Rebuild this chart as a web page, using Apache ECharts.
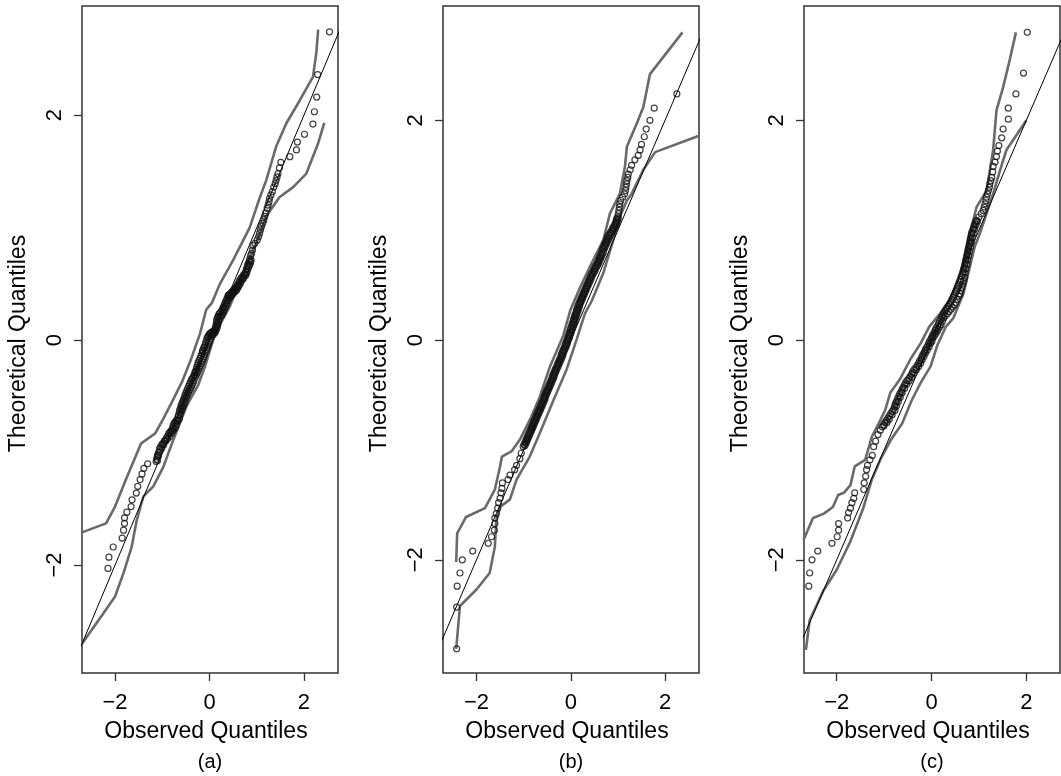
<!DOCTYPE html>
<html>
<head>
<meta charset="utf-8">
<title>QQ plots</title>
<script src="https://cdn.jsdelivr.net/npm/echarts@6/dist/echarts.min.js"></script>
<style>
  html, body { margin: 0; padding: 0; background: #fff; }
  #chart { width: 1061px; height: 776px; }
</style>
</head>
<body>
<div id="chart"></div>
<script>
// tick values and labels
const tickValues = [-2, 0, 2];
const panelLabels = ['(a)', '(b)', '(c)'];
const xName = 'Observed Quantiles';
const yName = 'Theoretical Quantiles';

// reference line y = x
const refLine = [[-3, -3], [3, 3]];

// axis ranges
const xRanges = [[-2.70, 2.72], [-2.71, 2.72], [-2.69, 2.71]];
const yRanges = [[-2.96, 2.97], [-3.03, 3.04], [-3.03, 3.04]];

// panel (a)
const aPoints = [
  [-2.15,-2.03],[-2.13,-1.93],[-2.04,-1.84],[-1.85,-1.76],[-1.82,-1.69],[-1.80,-1.63],[-1.80,-1.58],
  [-1.75,-1.53],[-1.66,-1.48],[-1.64,-1.42],[-1.55,-1.36],[-1.52,-1.30],[-1.47,-1.24],[-1.43,-1.19],
  [-1.39,-1.14],[-1.31,-1.10],
  [-1.13,-1.08],[-1.12,-1.06],[-1.11,-1.04],[-1.10,-1.02],[-1.08,-1.00],[-1.06,-0.97],[-1.04,-0.95],
  [-1.01,-0.93],[-0.99,-0.92],[-0.96,-0.90],[-0.94,-0.89],[-0.91,-0.87],[-0.88,-0.85],[-0.86,-0.83],
  [-0.84,-0.82],[-0.82,-0.81],[-0.80,-0.80],[-0.78,-0.78],[-0.77,-0.76],[-0.75,-0.74],[-0.73,-0.73],
  [-0.71,-0.72],[-0.69,-0.71],[-0.67,-0.69],[-0.66,-0.67],[-0.64,-0.64],[-0.63,-0.62],[-0.61,-0.60],
  [-0.60,-0.58],[-0.58,-0.56],[-0.56,-0.54],[-0.55,-0.53],[-0.53,-0.51],[-0.52,-0.49],[-0.50,-0.47],
  [-0.48,-0.45],[-0.46,-0.43],[-0.44,-0.41],[-0.42,-0.39],[-0.40,-0.37],[-0.38,-0.35],[-0.36,-0.34],
  [-0.34,-0.32],[-0.32,-0.31],[-0.31,-0.29],[-0.30,-0.28],[-0.28,-0.26],[-0.27,-0.24],[-0.25,-0.22],
  [-0.24,-0.20],[-0.22,-0.18],[-0.20,-0.16],[-0.18,-0.14],[-0.16,-0.12],[-0.15,-0.10],[-0.14,-0.09],
  [-0.12,-0.07],[-0.11,-0.06],[-0.09,-0.04],[-0.08,-0.02],[-0.06,0.00],[-0.05,0.02],[-0.03,0.03],
  [-0.02,0.04],[0.00,0.05],[0.01,0.06],[0.03,0.065],[0.05,0.07],[0.07,0.075],[0.09,0.08],[0.11,0.09],
  [0.12,0.10],[0.13,0.12],[0.14,0.14],[0.15,0.16],[0.15,0.18],[0.17,0.20],[0.18,0.21],[0.20,0.23],
  [0.22,0.24],[0.24,0.25],[0.26,0.26],[0.28,0.28],[0.29,0.29],[0.31,0.31],[0.33,0.33],[0.35,0.35],
  [0.37,0.37],[0.39,0.39],[0.40,0.40],[0.42,0.405],[0.44,0.41],[0.46,0.42],[0.48,0.43],[0.50,0.44],
  [0.52,0.45],[0.55,0.46],[0.57,0.47],[0.59,0.49],[0.61,0.50],[0.63,0.52],[0.64,0.53],[0.67,0.55],
  [0.69,0.56],[0.72,0.58],[0.75,0.59],[0.77,0.61],[0.78,0.63],[0.80,0.66],[0.82,0.68],[0.84,0.70],
  [0.85,0.72],[0.87,0.75],[0.89,0.77],[0.91,0.80],[0.92,0.84],[0.96,0.86],[1.01,0.89],[1.04,0.92],
  [1.06,0.95],[1.08,0.98],[1.10,1.01],[1.13,1.04],[1.15,1.07],[1.17,1.10],[1.19,1.13],[1.22,1.17],
  [1.24,1.20],[1.26,1.23],[1.27,1.26],[1.30,1.29],[1.33,1.32],[1.36,1.36],[1.39,1.39],[1.41,1.42],
  [1.43,1.45],[1.45,1.48],[1.48,1.53],[1.51,1.58],
  [1.70,1.63],[1.84,1.69],[1.86,1.76],[2.01,1.83],[2.19,1.92],[2.22,2.03],[2.27,2.16],[2.29,2.36],
  [2.54,2.74],
  // second row of the dense band
  [-1.10,-1.07],[-1.08,-1.03],[-1.05,-0.99],[-1.01,-0.96],[-0.97,-0.93],[-0.93,-0.90],[-0.89,-0.88],
  [-0.85,-0.86],[-0.81,-0.83],[-0.78,-0.81],[-0.75,-0.79],[-0.72,-0.77],[-0.70,-0.75],[-0.67,-0.72],
  [-0.64,-0.70],[-0.62,-0.66],[-0.60,-0.63],[-0.58,-0.61],[-0.56,-0.59],[-0.54,-0.57],[-0.52,-0.55],
  [-0.50,-0.52],[-0.48,-0.50],[-0.46,-0.48],[-0.44,-0.46],[-0.41,-0.44],[-0.39,-0.42],[-0.37,-0.40],
  [-0.35,-0.38],[-0.33,-0.36],[-0.30,-0.33],[-0.28,-0.31],[-0.26,-0.29],[-0.24,-0.27],[-0.22,-0.25],
  [-0.20,-0.23],[-0.18,-0.21],[-0.16,-0.19],[-0.14,-0.17],[-0.12,-0.15],[-0.11,-0.13],[-0.09,-0.11],
  [-0.07,-0.09],[-0.05,-0.07],[-0.04,-0.05],[-0.02,-0.03],[0.00,-0.01],[0.02,0.01],[0.04,0.03],
  [0.06,0.045],[0.08,0.05],[0.10,0.06],[0.12,0.07],[0.14,0.09],[0.16,0.11],[0.17,0.13],[0.18,0.15],
  [0.19,0.17],[0.21,0.19],[0.23,0.21],[0.25,0.22],[0.27,0.23],[0.29,0.25],[0.31,0.27],[0.33,0.29],
  [0.35,0.31],[0.37,0.33],[0.39,0.35],[0.41,0.37],[0.43,0.38],[0.45,0.39],[0.47,0.40],[0.49,0.41],
  [0.51,0.42],[0.54,0.43],[0.56,0.44],[0.58,0.45],[0.60,0.47],[0.62,0.48],[0.65,0.50],[0.67,0.52],
  [0.70,0.54],[0.72,0.55],[0.75,0.57],[0.77,0.58],[0.79,0.60],[0.81,0.63],[0.83,0.65],[0.85,0.67],
  [0.87,0.69],[0.88,0.71]
];
const aUpper = [
  [-2.70,-1.71],[-2.19,-1.63],[-2.00,-1.48],[-1.77,-1.24],[-1.45,-0.92],[-1.15,-0.83],[-0.98,-0.70],
  [-0.77,-0.53],[-0.57,-0.36],[-0.40,-0.18],[-0.20,0.06],[-0.07,0.27],[0.05,0.33],[0.22,0.50],
  [0.50,0.71],[0.85,1.00],[1.05,1.25],[1.20,1.42],[1.41,1.72],[1.63,1.93],[1.91,2.13],[2.19,2.34],
  [2.26,2.55],[2.30,2.76]
];
const aLower = [
  [-2.70,-2.70],[-2.25,-2.43],[-2.00,-2.28],[-1.82,-2.07],[-1.65,-1.84],[-1.54,-1.60],[-1.40,-1.39],
  [-1.19,-1.30],[-0.98,-1.13],[-0.77,-0.89],[-0.49,-0.59],[-0.24,-0.40],[-0.10,-0.24],[0.12,0.06],
  [0.43,0.30],[0.71,0.59],[0.99,0.86],[1.20,1.10],[1.48,1.27],[1.77,1.36],[2.05,1.48],[2.30,1.75],
  [2.43,1.93]
];

// panel (b)
const bPoints = [
  [-2.42,-2.81],[-2.42,-2.43],[-2.41,-2.24],[-2.35,-2.12],[-2.30,-2.00],[-2.08,-1.92],[-1.75,-1.85],
  [-1.68,-1.79],[-1.62,-1.73],[-1.61,-1.67],[-1.61,-1.62],[-1.58,-1.58],[-1.55,-1.53],[-1.53,-1.48],
  [-1.50,-1.44],[-1.48,-1.39],[-1.46,-1.35],[-1.45,-1.30],[-1.33,-1.27],[-1.29,-1.23],[-1.19,-1.18],
  [-1.15,-1.14],[-1.08,-1.08],[-1.05,-1.03],
  [-1.01,-0.97],[-0.99,-0.95],[-0.97,-0.93],[-0.95,-0.91],[-0.93,-0.89],[-0.91,-0.87],[-0.89,-0.85],
  [-0.87,-0.83],[-0.85,-0.81],[-0.83,-0.79],[-0.81,-0.77],[-0.79,-0.75],[-0.77,-0.73],[-0.75,-0.71],
  [-0.73,-0.69],[-0.71,-0.67],[-0.69,-0.65],[-0.67,-0.63],[-0.65,-0.61],[-0.63,-0.59],[-0.61,-0.57],
  [-0.59,-0.55],[-0.57,-0.53],[-0.56,-0.51],[-0.54,-0.49],[-0.52,-0.47],[-0.50,-0.45],[-0.48,-0.43],
  [-0.46,-0.41],[-0.44,-0.39],[-0.42,-0.37],[-0.40,-0.35],[-0.39,-0.33],[-0.37,-0.31],[-0.35,-0.29],
  [-0.33,-0.27],[-0.31,-0.25],[-0.29,-0.23],[-0.27,-0.21],[-0.25,-0.19],[-0.23,-0.17],[-0.21,-0.15],
  [-0.20,-0.13],[-0.18,-0.11],[-0.16,-0.09],[-0.14,-0.07],[-0.12,-0.05],[-0.11,-0.03],[-0.09,-0.01],
  [-0.07,0.01],[-0.06,0.03],[-0.04,0.05],[-0.03,0.07],[-0.01,0.09],[0.00,0.11],[0.02,0.13],[0.03,0.15],
  [0.05,0.17],[0.06,0.19],[0.08,0.21],[0.09,0.23],[0.11,0.25],[0.12,0.27],[0.14,0.29],[0.15,0.31],
  [0.17,0.33],[0.19,0.35],[0.21,0.37],[0.23,0.39],[0.25,0.41],[0.27,0.43],[0.29,0.45],[0.31,0.47],
  [0.33,0.49],[0.35,0.51],[0.37,0.53],[0.39,0.55],[0.41,0.57],[0.43,0.59],[0.45,0.61],[0.48,0.63],
  [0.50,0.65],[0.52,0.67],[0.55,0.69],[0.57,0.71],[0.59,0.73],[0.61,0.75],[0.63,0.77],[0.65,0.79],
  [0.67,0.82],[0.69,0.84],[0.71,0.86],[0.73,0.88],[0.75,0.90],[0.77,0.92],[0.78,0.94],[0.81,0.96],
  [0.84,0.98],[0.87,1.00],[0.89,1.02],[0.92,1.04],[0.94,1.06],[0.96,1.08],[0.97,1.10],[0.99,1.12],
  [1.01,1.15],[1.02,1.18],[1.03,1.21],[1.04,1.24],[1.06,1.27],[1.10,1.30],[1.14,1.33],[1.16,1.36],
  [1.17,1.39],[1.18,1.42],[1.19,1.45],[1.21,1.48],[1.22,1.51],[1.26,1.55],[1.29,1.59],[1.36,1.64],
  [1.43,1.68],[1.47,1.73],[1.50,1.78],[1.56,1.85],[1.60,1.92],[1.68,2.00],[1.77,2.11],[2.25,2.24],
  // second row of the dense band
  [-0.97,-0.96],[-0.95,-0.94],[-0.93,-0.92],[-0.91,-0.90],[-0.89,-0.88],[-0.87,-0.86],[-0.85,-0.84],
  [-0.83,-0.82],[-0.81,-0.80],[-0.79,-0.78],[-0.77,-0.76],[-0.75,-0.74],[-0.73,-0.72],[-0.71,-0.70],
  [-0.69,-0.68],[-0.67,-0.66],[-0.65,-0.64],[-0.63,-0.62],[-0.61,-0.60],[-0.59,-0.58],[-0.57,-0.56],
  [-0.55,-0.54],[-0.54,-0.52],[-0.52,-0.50],[-0.50,-0.48],[-0.48,-0.46],[-0.46,-0.44],[-0.44,-0.42],
  [-0.42,-0.40],[-0.40,-0.38],[-0.38,-0.36],[-0.36,-0.34],[-0.35,-0.32],[-0.33,-0.30],[-0.31,-0.28],
  [-0.29,-0.26],[-0.27,-0.24],[-0.25,-0.22],[-0.23,-0.20],[-0.21,-0.18],[-0.19,-0.16],[-0.17,-0.14],
  [-0.16,-0.12],[-0.14,-0.10],[-0.12,-0.08],[-0.10,-0.06],[-0.08,-0.04],[-0.07,-0.02],[-0.05,0.00],
  [-0.03,0.02],[-0.02,0.04],[0.00,0.06],[0.01,0.08],[0.03,0.10],[0.04,0.12],[0.06,0.14],[0.07,0.16],
  [0.09,0.18],[0.10,0.20],[0.12,0.22],[0.13,0.24],[0.15,0.26],[0.16,0.28],[0.18,0.30],[0.19,0.32],
  [0.21,0.34],[0.23,0.36],[0.25,0.38],[0.27,0.40],[0.29,0.42],[0.31,0.44],[0.33,0.46],[0.35,0.48],
  [0.37,0.50],[0.39,0.52],[0.41,0.54],[0.43,0.56],[0.45,0.58],[0.47,0.60],[0.50,0.62],[0.52,0.64],
  [0.54,0.66],[0.57,0.68],[0.59,0.70],[0.61,0.72],[0.63,0.74],[0.65,0.76],[0.67,0.78],[0.69,0.80],
  [0.71,0.83],[0.73,0.85],[0.75,0.87],[0.77,0.89],[0.79,0.91],[0.81,0.93],[0.83,0.95],[0.86,0.97],
  [0.89,0.99],[0.91,1.01],[0.94,1.03],[0.96,1.05],[0.98,1.07],[0.99,1.09],[1.01,1.11]
];
const bUpper = [
  [-2.43,-2.02],[-2.41,-1.76],[-2.22,-1.61],[-1.82,-1.53],[-1.61,-1.36],[-1.50,-1.15],[-1.46,-1.06],
  [-1.25,-1.01],[-1.07,-0.90],[-0.86,-0.72],[-0.66,-0.52],[-0.44,-0.24],[-0.16,0.04],[-0.01,0.27],
  [0.20,0.48],[0.41,0.67],[0.69,0.91],[0.83,1.15],[1.04,1.33],[1.15,1.58],[1.19,1.76],[1.40,1.97],
  [1.54,2.12],[1.68,2.42],[2.37,2.80]
];
const bLower = [
  [-2.43,-2.81],[-2.35,-2.42],[-2.00,-2.27],[-1.72,-2.12],[-1.61,-1.88],[-1.58,-1.64],[-1.50,-1.52],
  [-1.29,-1.45],[-1.15,-1.27],[-0.87,-1.06],[-0.66,-0.85],[-0.37,-0.55],[-0.09,-0.27],[0.12,0.00],
  [0.30,0.24],[0.45,0.36],[0.69,0.61],[0.90,0.91],[1.04,1.12],[1.19,1.27],[1.29,1.33],[1.54,1.55],
  [1.79,1.71],[2.72,1.86]
];

// panel (c)
const cPoints = [
  [-2.59,-2.24],[-2.57,-2.12],[-2.52,-2.00],[-2.40,-1.92],[-2.10,-1.85],[-1.99,-1.79],[-1.96,-1.73],
  [-1.96,-1.67],[-1.77,-1.62],[-1.75,-1.57],[-1.71,-1.53],[-1.68,-1.48],[-1.64,-1.44],[-1.62,-1.39],
  [-1.43,-1.36],[-1.42,-1.30],[-1.39,-1.24],[-1.37,-1.18],[-1.35,-1.14],[-1.30,-1.09],[-1.25,-1.05],
  [-1.22,-0.97],[-1.18,-0.92],[-1.13,-0.86],[-1.08,-0.82],
  [-1.04,-0.79],[-1.01,-0.77],[-0.98,-0.75],[-0.95,-0.73],[-0.92,-0.71],[-0.89,-0.69],[-0.86,-0.67],
  [-0.83,-0.65],[-0.80,-0.63],[-0.78,-0.61],[-0.77,-0.59],[-0.75,-0.57],[-0.73,-0.55],[-0.71,-0.53],
  [-0.69,-0.51],[-0.67,-0.49],[-0.64,-0.47],[-0.62,-0.45],[-0.60,-0.43],[-0.57,-0.41],[-0.55,-0.39],
  [-0.52,-0.37],[-0.48,-0.35],[-0.45,-0.33],[-0.42,-0.31],[-0.40,-0.29],[-0.37,-0.27],[-0.33,-0.25],
  [-0.30,-0.23],[-0.27,-0.21],[-0.25,-0.19],[-0.22,-0.17],[-0.20,-0.15],[-0.18,-0.13],[-0.15,-0.11],
  [-0.13,-0.09],[-0.11,-0.07],[-0.08,-0.05],[-0.06,-0.03],[-0.04,-0.01],[-0.01,0.01],[0.01,0.03],
  [0.03,0.05],[0.06,0.07],[0.08,0.09],[0.10,0.11],[0.13,0.13],[0.15,0.15],[0.17,0.17],[0.20,0.19],
  [0.22,0.21],[0.24,0.23],[0.26,0.25],[0.29,0.27],[0.32,0.29],[0.35,0.31],[0.38,0.33],[0.41,0.35],
  [0.43,0.37],[0.46,0.39],[0.48,0.41],[0.51,0.43],[0.53,0.45],[0.55,0.47],[0.57,0.49],[0.59,0.51],
  [0.61,0.53],[0.62,0.55],[0.64,0.58],[0.66,0.60],[0.67,0.62],[0.68,0.64],[0.69,0.66],[0.70,0.68],
  [0.71,0.70],[0.72,0.72],[0.73,0.74],[0.74,0.76],[0.75,0.78],[0.76,0.80],[0.77,0.82],[0.78,0.84],
  [0.79,0.86],[0.80,0.88],[0.81,0.90],[0.82,0.92],[0.83,0.94],[0.84,0.96],[0.85,0.98],[0.87,1.00],
  [0.89,1.02],[0.90,1.04],[0.92,1.06],[0.94,1.08],[0.95,1.09],
  [1.00,1.12],[1.05,1.15],[1.09,1.18],[1.11,1.21],[1.13,1.24],[1.15,1.27],[1.16,1.30],[1.18,1.33],
  [1.20,1.36],[1.22,1.39],[1.23,1.42],[1.25,1.45],[1.27,1.48],[1.29,1.53],[1.30,1.58],[1.34,1.62],
  [1.37,1.67],[1.39,1.72],[1.42,1.77],[1.48,1.84],[1.51,1.92],[1.62,2.01],[1.62,2.11],[1.78,2.24],
  [1.94,2.43],[2.02,2.80],
  // second row of the dense band
  [-1.00,-0.78],[-0.94,-0.75],[-0.89,-0.72],[-0.83,-0.68],[-0.77,-0.64],[-0.74,-0.60],[-0.70,-0.56],
  [-0.66,-0.52],[-0.62,-0.48],[-0.57,-0.44],[-0.52,-0.40],[-0.47,-0.37],[-0.42,-0.34],[-0.37,-0.30],
  [-0.32,-0.27],[-0.27,-0.24],[-0.23,-0.21],[-0.20,-0.18],[-0.16,-0.15],[-0.13,-0.12],[-0.09,-0.09],
  [-0.05,-0.06],[-0.02,-0.03],[0.01,-0.01],[0.03,0.02],[0.06,0.04],[0.09,0.06],[0.12,0.08],[0.14,0.10],
  [0.17,0.12],[0.20,0.14],[0.23,0.17],[0.26,0.20],[0.29,0.22],[0.33,0.24],[0.37,0.26],[0.41,0.28],
  [0.44,0.30],[0.48,0.32],[0.51,0.34],[0.54,0.37],[0.57,0.40],[0.60,0.42],[0.62,0.45],[0.64,0.48],
  [0.66,0.51],[0.68,0.54],[0.70,0.57],[0.71,0.61],[0.73,0.65],[0.75,0.69],[0.76,0.73],[0.78,0.77],
  [0.80,0.81],[0.82,0.85],[0.84,0.89],[0.86,0.93],[0.88,0.97],[0.91,1.01],[0.94,1.05],[0.97,1.08]
];
const cUpper = [
  [-2.70,-1.82],[-2.50,-1.62],[-2.27,-1.58],[-2.08,-1.52],[-1.97,-1.41],[-1.85,-1.39],[-1.71,-1.32],
  [-1.62,-1.15],[-1.40,-1.09],[-1.26,-0.88],[-1.15,-0.79],[-0.98,-0.64],[-0.87,-0.48],[-0.67,-0.36],
  [-0.44,-0.17],[-0.23,-0.03],[-0.05,0.12],[0.18,0.24],[0.39,0.36],[0.60,0.61],[0.74,0.79],[0.81,0.97],
  [0.95,1.21],[1.16,1.36],[1.30,1.73],[1.37,2.09],[1.51,2.30],[1.65,2.55],[1.78,2.80]
];
const cLower = [
  [-2.65,-2.82],[-2.57,-2.55],[-2.28,-2.28],[-2.00,-2.09],[-1.72,-1.84],[-1.44,-1.53],[-1.26,-1.27],
  [-1.07,-1.08],[-0.86,-0.91],[-0.62,-0.76],[-0.42,-0.55],[-0.23,-0.39],[-0.02,-0.24],[0.12,-0.05],
  [0.30,0.12],[0.46,0.20],[0.67,0.42],[0.81,0.67],[0.91,0.85],[1.02,0.97],[1.16,1.15],[1.30,1.33],
  [1.45,1.55],[1.58,1.73],[1.86,1.91],[2.00,2.00]
];

const panels = [
  { points: aPoints, upper: aUpper, lower: aLower },
  { points: bPoints, upper: bUpper, lower: bLower },
  { points: cPoints, upper: cUpper, lower: cLower }
];

const gridLefts = [82, 443, 804];
const gridTop = 6, gridWidth = 256, gridHeight = 667;
const tickLen = 8;
const font = 'Liberation Sans, Arial, Helvetica, sans-serif';
const minus = (v) => String(v).replace('-', '\u2212');
const axisColor = '#333';
const tickStyle = { show: true, inside: true, length: tickLen, customValues: tickValues, lineStyle: { color: axisColor, width: 1.3 } };

const grid = [], xAxis = [], yAxis = [], series = [], graphic = [];

panels.forEach((p, i) => {
  const [x0, x1] = xRanges[i];
  const [y0, y1] = yRanges[i];
  const plot = 2 * i, frame = 2 * i + 1;

  // plotting box: holds the data, draws the frame
  grid.push({
    left: gridLefts[i], top: gridTop, width: gridWidth, height: gridHeight,
    show: true, borderColor: axisColor, borderWidth: 1.5, backgroundColor: 'transparent'
  });
  xAxis.push({ gridIndex: plot, type: 'value', min: x0, max: x1, show: false });
  yAxis.push({ gridIndex: plot, type: 'value', min: y0, max: y1, show: false });

  // axis frame: same scale, reaching tickLen px past the box on the left and bottom,
  // so inward ticks from its edge land just outside the box like R's ticks
  const xPad = tickLen * (x1 - x0) / gridWidth;
  const yPad = tickLen * (y1 - y0) / gridHeight;
  grid.push({
    left: gridLefts[i] - tickLen, top: gridTop,
    width: gridWidth + tickLen, height: gridHeight + tickLen
  });
  xAxis.push({
    gridIndex: frame, type: 'value', min: x0 - xPad, max: x1,
    name: xName, nameLocation: 'middle', nameGap: 39,
    nameTextStyle: { fontFamily: font, fontSize: 23, color: '#000' },
    axisLine: { show: false, onZero: false },
    axisTick: tickStyle,
    axisLabel: { customValues: tickValues, formatter: minus, margin: 11, fontFamily: font, fontSize: 22, color: '#000' },
    splitLine: { show: false }
  });
  yAxis.push({
    gridIndex: frame, type: 'value', min: y0 - yPad, max: y1,
    name: yName, nameLocation: 'middle', nameGap: 44, nameRotate: 90,
    nameTextStyle: { fontFamily: font, fontSize: 23, color: '#000' },
    axisLine: { show: false, onZero: false },
    axisTick: tickStyle,
    axisLabel: { customValues: tickValues, formatter: minus, rotate: 90, margin: 8, fontFamily: font, fontSize: 22, color: '#000' },
    splitLine: { show: false }
  });
  series.push({ type: 'line', xAxisIndex: frame, yAxisIndex: frame, data: [], silent: true });

  // envelope lines
  [p.upper, p.lower].forEach((env) => {
    series.push({
      type: 'line', xAxisIndex: plot, yAxisIndex: plot, data: env,
      showSymbol: false, symbol: 'none', clip: true, z: 2,
      lineStyle: { color: '#6a6a6a', width: 2.6 }
    });
  });

  // reference line
  series.push({
    type: 'line', xAxisIndex: plot, yAxisIndex: plot, data: refLine,
    showSymbol: false, symbol: 'none', clip: true, z: 3,
    lineStyle: { color: '#000', width: 1 }
  });

  // observed points
  series.push({
    type: 'scatter', xAxisIndex: plot, yAxisIndex: plot, data: p.points,
    symbol: 'circle', symbolSize: 6, z: 4,
    itemStyle: { color: 'rgba(0,0,0,0)', borderColor: '#111', borderWidth: 1.2 }
  });

  graphic.push({
    type: 'text', x: gridLefts[i] + gridWidth / 2, y: 762,
    style: { text: panelLabels[i], fontFamily: font, fontSize: 20, fill: '#000', align: 'center', verticalAlign: 'middle' }
  });
});

const chart = echarts.init(document.getElementById('chart'), null, { renderer: 'canvas' });
chart.setOption({
  animation: false,
  backgroundColor: '#fff',
  grid, xAxis, yAxis, series, graphic
});
</script>
</body>
</html>
